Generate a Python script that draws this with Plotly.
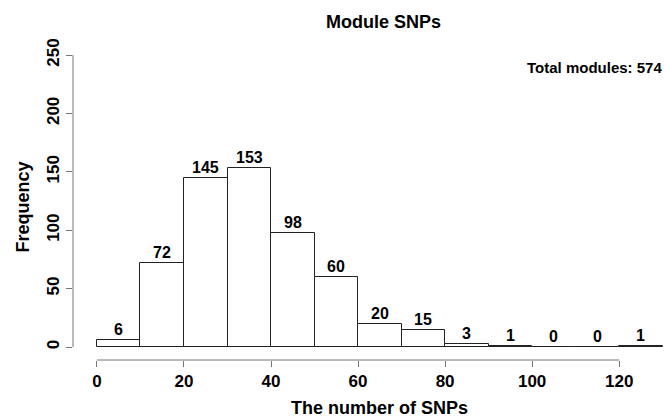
import plotly.graph_objects as go

bin_starts = [0, 10, 20, 30, 40, 50, 60, 70, 80, 90, 100, 110, 120]
bin_width = 10
counts = [6, 72, 145, 153, 98, 60, 20, 15, 3, 1, 0, 0, 1]
x_ticks = [0, 20, 40, 60, 80, 100, 120]
y_ticks = [0, 50, 100, 150, 200, 250]
total = sum(counts)

centers = [s + bin_width / 2 for s in bin_starts]
FONT = "Liberation Sans, Arial, sans-serif"

fig = go.Figure()
fig.add_trace(go.Bar(
    x=centers, y=counts, width=bin_width,
    marker=dict(color="white", line=dict(color="#222222", width=1)),
    hoverinfo="skip", showlegend=False,
))

# count labels above bars
for cx, c in zip(centers, counts):
    fig.add_annotation(x=cx, y=c, text=f"<b>{c}</b>", showarrow=False,
                       xanchor="center", yanchor="bottom", yshift=0,
                       font=dict(family=FONT, size=16, color="black"))

# R-style detached axis lines
fig.add_shape(type="line", xref="x", yref="paper", x0=x_ticks[0], x1=x_ticks[-1], y0=0, y1=0,
              line=dict(color="#777777", width=1))
fig.add_shape(type="line", xref="paper", yref="y", x0=0, x1=0, y0=y_ticks[0], y1=y_ticks[-1],
              line=dict(color="#777777", width=1))

fig.update_layout(
    width=666, height=417,
    margin=dict(l=73, r=2, t=55, b=57),
    paper_bgcolor="white", plot_bgcolor="white",
    bargap=0,
    font=dict(family=FONT, color="black"),
    xaxis=dict(range=[-5.5, 130.3], tickvals=x_ticks,
               ticktext=[f"<b>{v}</b>" for v in x_ticks],
               ticks="outside", ticklen=6, tickcolor="#777777",
               showgrid=False, zeroline=False, showline=False,
               tickfont=dict(size=17, family=FONT)),
    yaxis=dict(range=[-11.1, 250], tickvals=y_ticks,
               ticktext=[f"<b>{v}</b>" for v in y_ticks],
               ticks="outside", ticklen=6, tickcolor="#777777",
               tickangle=-90, ticklabelstandoff=0,
               showgrid=False, zeroline=False, showline=False,
               tickfont=dict(size=17, family=FONT)),
)
fig.add_annotation(text="<b>Module SNPs</b>", xref="paper", yref="paper",
                   x=0.526, y=1, yshift=33, showarrow=False,
                   font=dict(size=18, family=FONT), xanchor="center", yanchor="middle")
fig.add_annotation(text="<b>The number of SNPs</b>", xref="paper", yref="paper",
                   x=(379 - 73) / 591, y=0, yshift=-48, showarrow=False,
                   font=dict(size=18, family=FONT), xanchor="center", yanchor="middle")
fig.add_annotation(text="<b>Frequency</b>", xref="paper", yref="paper",
                   x=0, xshift=-51, y=0.5, showarrow=False, textangle=-90,
                   font=dict(size=18, family=FONT), xanchor="center", yanchor="middle")
fig.add_annotation(text=f"<b>Total modules: {total}</b>", xref="paper", yref="paper",
                   x=1, y=1, yshift=-2, showarrow=False,
                   font=dict(size=15, family=FONT), xanchor="right", yanchor="top")

fig.write_html("out.html", config={"displayModeBar": False},
               post_script="document.body.style.margin='0';document.body.style.overflow='hidden';")
